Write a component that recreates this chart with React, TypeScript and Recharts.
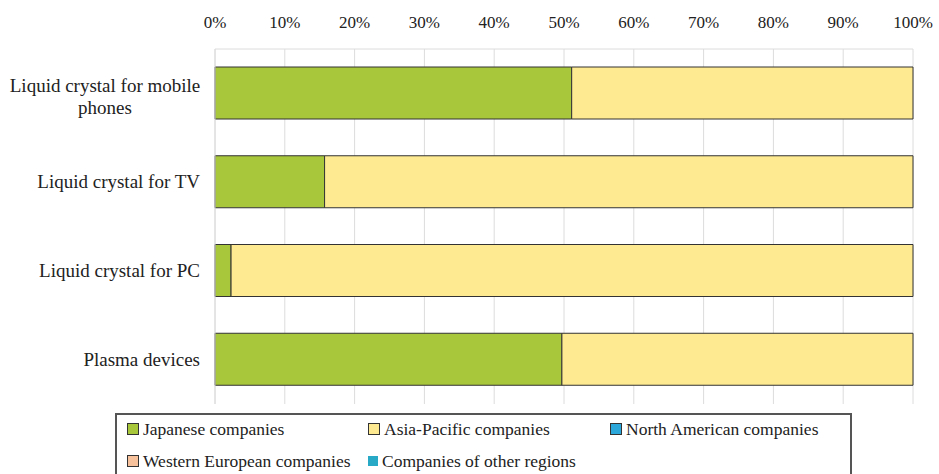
import { BarChart, Bar, XAxis, YAxis, CartesianGrid } from 'recharts';

const categories = [
  'Liquid crystal for mobile phones',
  'Liquid crystal for TV',
  'Liquid crystal for PC',
  'Plasma devices',
];
const japanese = [51.1, 15.7, 2.3, 49.7];
const asiaPacific = [48.9, 84.3, 97.7, 50.3];
const northAmerican = [0, 0, 0, 0];
const westernEuropean = [0, 0, 0, 0];
const otherRegions = [0, 0, 0, 0];
const xTicks = [0, 10, 20, 30, 40, 50, 60, 70, 80, 90, 100];
const boundaryTicks = [0, 1, 2, 3, 4];

const series = [
  { key: 'japanese', name: 'Japanese companies', color: '#a9c73b', values: japanese },
  { key: 'asiaPacific', name: 'Asia-Pacific companies', color: '#feea91', values: asiaPacific },
  { key: 'northAmerican', name: 'North American companies', color: '#2ba7da', values: northAmerican },
  { key: 'westernEuropean', name: 'Western European companies', color: '#f8c39c', values: westernEuropean },
  { key: 'otherRegions', name: 'Companies of other regions', color: '#28a9c6', values: otherRegions },
];

const data = categories.map((name, i) => {
  const row: Record<string, string | number> = { name };
  series.forEach((s) => (row[s.key] = s.values[i]));
  return row;
});

const FONT = '"Liberation Serif", "Times New Roman", serif';

// Excel-style wrapped category label
function CategoryTick({ y, payload }: any) {
  const label: string = payload.value;
  if (label === 'Liquid crystal for mobile phones') {
    return (
      <text x={105} y={y} textAnchor="middle" fontFamily={FONT} fontSize={19} fill="#222">
        <tspan x={105} dy={-1}>Liquid crystal for mobile</tspan>
        <tspan x={105} dy={22}>phones</tspan>
      </text>
    );
  }
  return (
    <text x={200} y={y} dy={6} textAnchor="end" fontFamily={FONT} fontSize={19} fill="#222">
      {label}
    </text>
  );
}

function LegendBox() {
  const boxLeft = 115;
  const boxTop = 413;
  const cols = [127, 368, 610];
  const rows = [429, 461];
  return (
    <div
      style={{
        position: 'absolute',
        left: boxLeft,
        top: boxTop,
        width: 852 - boxLeft,
        height: 75,
        border: '2px solid #555',
        boxSizing: 'border-box',
        background: '#fff',
      }}
    >
      {series.map((s, i) => {
        const left = cols[i % 3] - boxLeft - 2;
        const top = rows[Math.floor(i / 3)] - boxTop - 2 - 11;
        return (
          <div
            key={s.key}
            style={{
              position: 'absolute',
              left,
              top,
              height: 22,
              display: 'flex',
              alignItems: 'center',
              whiteSpace: 'nowrap',
              fontFamily: FONT,
              fontSize: 17.5,
              color: '#222',
            }}
          >
            <span
              style={{
                display: 'inline-block',
                width: 10,
                height: 10,
                background: s.color,
                border: i === 4 ? 'none' : '1px solid #333',
                marginRight: 4,
              }}
            />
            {s.name}
          </div>
        );
      })}
    </div>
  );
}

export default function App() {
  return (
    <div style={{ position: 'absolute', left: 0, top: 0, width: 939, height: 474, background: '#fff', overflow: 'hidden' }}>
      <BarChart
        width={939}
        height={474}
        data={data}
        layout="vertical"
        margin={{ top: 19, right: 26, bottom: 70, left: 0 }}
        barSize={52}
      >
        <CartesianGrid horizontal={false} stroke="#dcdcdc" />
        <XAxis
          type="number"
          orientation="top"
          domain={[0, 100]}
          ticks={xTicks}
          tickFormatter={(v) => `${v}%`}
          axisLine={{ stroke: '#dcdcdc' }}
          tickLine={false}
          tickMargin={15}
          height={30}
          tick={{ fontFamily: FONT, fontSize: 17, fill: '#222' }}
        />
        {/* category boundary tick marks, Excel style */}
        <YAxis
          yAxisId="bounds"
          type="number"
          domain={[0, 4]}
          ticks={boundaryTicks}
          width={0}
          axisLine={false}
          tickLine={{ stroke: '#c8c8c8' }}
          tickSize={5}
          tick={() => <g />}
        />
        <YAxis
          type="category"
          dataKey="name"
          width={215}
          axisLine={{ stroke: '#dcdcdc' }}
          tickLine={false}
          tick={<CategoryTick />}
          interval={0}
        />
        {series.map((s) => (
          <Bar
            key={s.key}
            dataKey={s.key}
            name={s.name}
            stackId="a"
            fill={s.color}
            stroke="#333"
            strokeWidth={1}
            isAnimationActive={false}
          />
        ))}
      </BarChart>
      <LegendBox />
    </div>
  );
}
